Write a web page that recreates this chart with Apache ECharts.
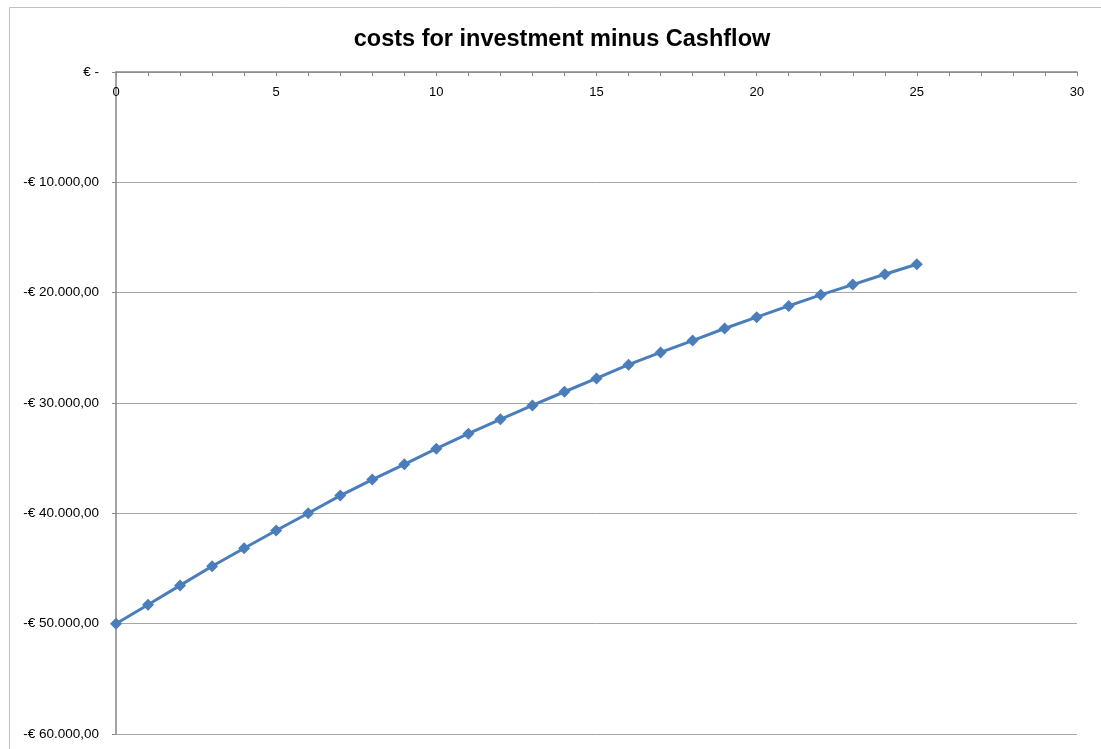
<!DOCTYPE html>
<html>
<head>
<meta charset="utf-8">
<title>costs for investment minus Cashflow</title>
<script src="https://cdn.jsdelivr.net/npm/echarts@6/dist/echarts.min.js"></script>
<style>
  html, body { margin: 0; padding: 0; background: #ffffff; }
  #chart { width: 1101px; height: 749px; }
</style>
</head>
<body>
<div id="chart"></div>
<script>
// Years since the investment
const years = [0, 1, 2, 3, 4, 5, 6, 7, 8, 9, 10, 11, 12, 13, 14, 15, 16, 17, 18, 19, 20, 21, 22, 23, 24, 25];
// Remaining balance (investment costs minus cumulative cashflow), in euro
const balance = [
  -50000, -48280, -46530, -44790, -43160, -41560, -39990, -38390, -36940, -35560,
  -34140, -32780, -31480, -30220, -28980, -27770, -26530, -25420, -24340, -23250,
  -22220, -21200, -20200, -19270, -18330, -17420
];
const titleText = 'costs for investment minus Cashflow';
const xTicks = [0, 5, 10, 15, 20, 25, 30];
const yTicks = [0, -10000, -20000, -30000, -40000, -50000, -60000];

function euro(v) {
  if (v === 0) return '\u20ac -';
  const abs = Math.abs(v);
  const intPart = Math.floor(abs).toString().replace(/\B(?=(\d{3})+(?!\d))/g, '.');
  return (v < 0 ? '-' : '') + '\u20ac ' + intPart + ',00';
}

const font = '"Liberation Sans", Arial, sans-serif';
const chart = echarts.init(document.getElementById('chart'), null, { renderer: 'canvas' });

chart.setOption({
  animation: false,
  backgroundColor: '#ffffff',
  graphic: [{
    type: 'rect',
    shape: { x: 9.5, y: 7.5, width: 1200, height: 800 },
    style: { fill: 'none', stroke: '#bfbfbf', lineWidth: 1 },
    silent: true
  }],
  title: {
    text: titleText,
    left: 557,
    top: 23,
    textAlign: 'center',
    textStyle: { fontFamily: font, fontWeight: 'bold', fontSize: 23.5, color: '#000000' }
  },
  grid: { left: 116, right: 24, top: 72, bottom: 15, containLabel: false },
  xAxis: {
    type: 'value',
    position: 'top',
    min: xTicks[0],
    max: xTicks[xTicks.length - 1],
    interval: 5,
    axisLine: { show: true, lineStyle: { color: '#868686', width: 1.5 } },
    axisTick: { show: true, inside: true, length: 4, lineStyle: { color: '#868686' } },
    minorTick: { show: true, splitNumber: 5, length: 4, lineStyle: { color: '#868686' } },
    splitLine: { show: false },
    axisLabel: {
      inside: true, margin: 14,
      color: '#000000', fontFamily: font, fontSize: 13
    }
  },
  yAxis: {
    type: 'value',
    min: yTicks[yTicks.length - 1],
    max: yTicks[0],
    interval: 10000,
    axisLine: { show: true, onZero: false, lineStyle: { color: '#868686', width: 1.5 } },
    axisTick: { show: true, inside: false, length: 4, lineStyle: { color: '#868686' } },
    splitLine: { show: true, lineStyle: { color: '#a6a6a6', width: 1 } },
    axisLabel: {
      margin: 17,
      color: '#000000', fontFamily: font, fontSize: 13.5,
      formatter: euro
    }
  },
  series: [{
    type: 'line',
    data: years.map((y, i) => [y, balance[i]]),
    symbol: 'diamond',
    symbolSize: 12,
    showAllSymbol: true,
    lineStyle: { color: '#4a7ebb', width: 3 },
    itemStyle: { color: '#4a7ebb' },
    z: 5
  }]
});
</script>
</body>
</html>
